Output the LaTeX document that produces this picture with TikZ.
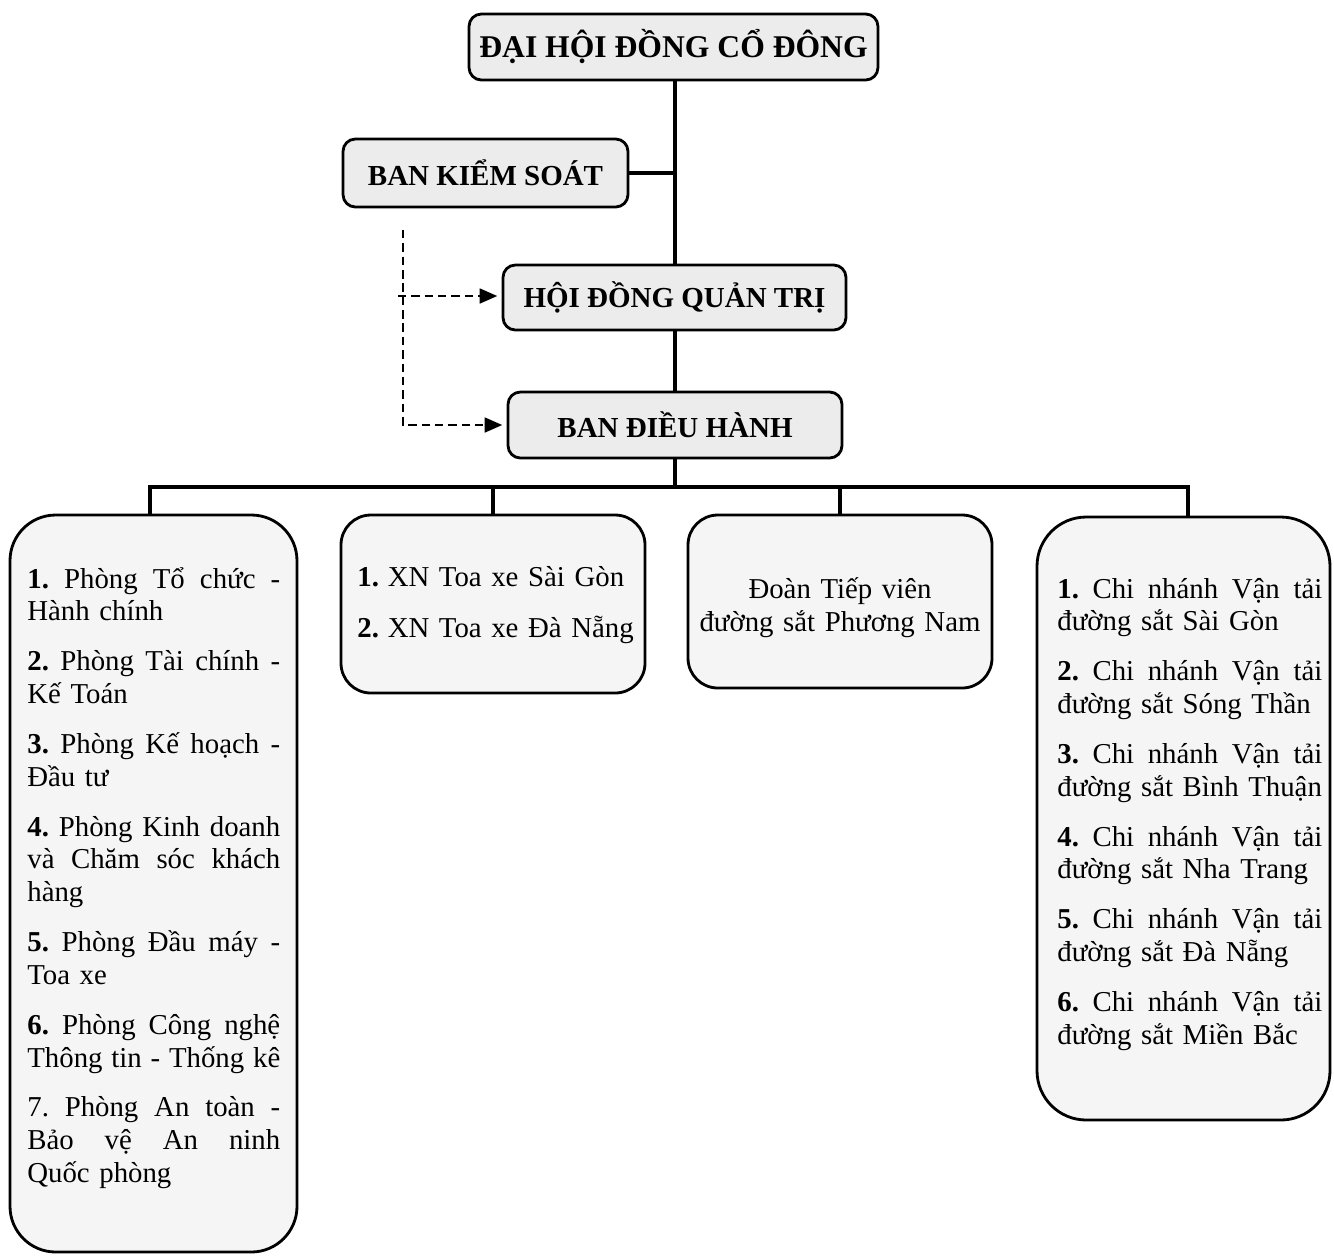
\documentclass[tikz,border=0pt]{standalone}
\usepackage{fontspec}
\setmainfont{Liberation Serif}
\usetikzlibrary{fit,arrows.meta}
\newcommand\jline[1]{\makebox[\hsize][s]{\spaceskip=.25em plus 3em minus .1em\xspaceskip=\spaceskip #1}}
\begin{document}
\begin{tikzpicture}[x=0.02cm,y=-0.02cm,
  tbox/.style={draw, line width=1.6pt, rounded corners=7pt, fill=gray!15, inner sep=0pt, font=\fontsize{16.5}{19}\selectfont\bfseries},
  lbox/.style={draw, line width=1.6pt, fill=gray!8, inner sep=0pt},
  conn/.style={line width=2.2pt},
  dsh/.style={line width=1.1pt, dash pattern=on 4.8pt off 2.8pt, -{Triangle[length=10pt,width=8.5pt]}, shorten >=2.5pt},
  txt/.style={inner sep=0pt, anchor=base west, align=left, font=\fontsize{16.4}{18.7}\selectfont}]
\useasboundingbox (0,0) rectangle (1334,1255);
\fill[white] (0,0) rectangle (1334,1255);

% title boxes
\node[tbox, minimum width=8.18cm, minimum height=1.32cm, font=\fontsize{18}{20}\selectfont\bfseries] (dh) at (673.5,47) {ĐẠI HỘI ĐỒNG CỔ ĐÔNG};
\node[tbox, minimum width=5.7cm, minimum height=1.36cm] (bks) at (485.5,173) {BAN KIỂM SOÁT};
\node[tbox, minimum width=6.86cm, minimum height=1.3cm] (hdqt) at (674.5,297.5) {HỘI ĐỒNG QUẢN TRỊ};
\node[tbox, minimum width=6.68cm, minimum height=1.32cm] (bdh) at (675,425) {BAN ĐIỀU HÀNH};

% lower boxes
\node[lbox, rounded corners=26pt, fit={(10,515) (297,1252)}] (b1) {};
\node[lbox, rounded corners=17pt, fit={(341,515) (645,693)}] (b2) {};
\node[lbox, rounded corners=17pt, fit={(688,515) (992,688)}] (b3) {};
\node[lbox, rounded corners=28pt, fit={(1037,517) (1330,1120)}] (b4) {};

% texts
\node[txt, text width=5.06cm] (t1) at (27,588) {%
\jline{\textbf{1.} Phòng Tổ chức -}\\
\mbox{Hành chính}\\[9.65pt]
\jline{\textbf{2.} Phòng Tài chính -}\\
\mbox{Kế Toán}\\[9.65pt]
\jline{\textbf{3.} Phòng Kế hoạch -}\\
\mbox{Đầu tư}\\[9.65pt]
\jline{\textbf{4.} Phòng Kinh doanh}\\
\jline{và Chăm sóc khách}\\
\mbox{hàng}\\[9.65pt]
\jline{\textbf{5.} Phòng Đầu máy -}\\
\mbox{Toa xe}\\[9.65pt]
\jline{\textbf{6.} Phòng Công nghệ}\\
\jline{Thông tin - Thống kê}\\[9.65pt]
\jline{7. Phòng An toàn -}\\
\jline{Bảo vệ An ninh}\\
\mbox{Quốc phòng}};

\node[txt, text width=5.8cm] (t2) at (357,586) {%
\mbox{\textbf{1.}\hspace{5pt}XN Toa xe Sài Gòn}\\[10.8pt]
\mbox{\textbf{2.}\hspace{5pt}XN Toa xe Đà Nẵng}};

\node[txt, text width=5.8cm, anchor=base, align=center, font=\fontsize{16.4}{19.3}\selectfont] (t3) at (840,598) {%
Đoàn Tiếp viên\\
\mbox{đường sắt Phương Nam}};

\node[txt, text width=5.3cm] (t4) at (1057,598) {%
\jline{\textbf{1.} Chi nhánh Vận tải}\\
\mbox{đường sắt Sài Gòn}\\[9.65pt]
\jline{\textbf{2.} Chi nhánh Vận tải}\\
\mbox{đường sắt Sóng Thần}\\[9.65pt]
\jline{\textbf{3.} Chi nhánh Vận tải}\\
\mbox{đường sắt Bình Thuận}\\[9.65pt]
\jline{\textbf{4.} Chi nhánh Vận tải}\\
\mbox{đường sắt Nha Trang}\\[9.65pt]
\jline{\textbf{5.} Chi nhánh Vận tải}\\
\mbox{đường sắt Đà Nẵng}\\[9.65pt]
\jline{\textbf{6.} Chi nhánh Vận tải}\\
\mbox{đường sắt Miền Bắc}};

% solid connectors
\coordinate (trunk) at (675,80);
\coordinate (bus) at (675,487);
\draw[conn] (trunk) -- (trunk |- hdqt.north);
\draw[conn] (bks.east) -- (bks.east -| trunk);
\draw[conn] (hdqt.south -| trunk) -- (bdh.north -| trunk);
\draw[conn] (bdh.south -| trunk) -- (bus);
\draw[conn] ([xshift=-0.07cm]b1.north) |- (bus) -| ([xshift=0.09cm]b4.north);
\draw[conn] (b2.north) -- (b2.north |- bus);
\draw[conn] (b3.north) -- (b3.north |- bus);

% dashed connectors
\coordinate (ks) at (403,230);
\coordinate (ksb) at (398,296);
\draw[dsh] (ks) |- (bdh.west);
\draw[dsh] (ksb) -- (ksb -| hdqt.west);
\end{tikzpicture}
\end{document}
